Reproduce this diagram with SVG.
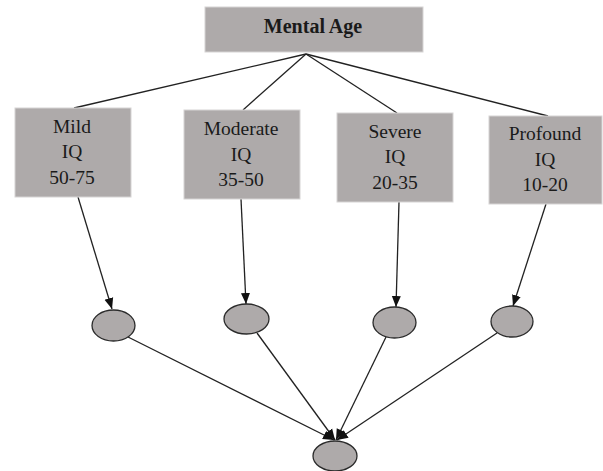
<svg xmlns="http://www.w3.org/2000/svg" width="603" height="471" viewBox="0 0 603 471">
  <style>
    .box { fill: #aeaaaa; stroke: #d6d4d4; stroke-width: 1; }
    .oval { fill: #aeaaaa; stroke: #2b2b2b; stroke-width: 1.3; }
    text { font-family: 'Liberation Serif', 'DejaVu Serif', serif; font-size: 19.5px; fill: #1a1a1a; text-anchor: middle; }
    .title { font-weight: bold; font-size: 20px; }
    .edge { stroke: #222; stroke-width: 1.3; fill: none; }
    .arrow { stroke: #222; stroke-width: 1.3; fill: none; marker-end: url(#head); }
  </style>
  <defs>
    <marker id="head" markerUnits="userSpaceOnUse" markerWidth="12" markerHeight="12" viewBox="0 0 12 12" refX="11" refY="6" orient="auto">
      <path d="M0,1.5 L11,6 L0,10.5 Z" fill="#111"/>
    </marker>
  </defs>
  <rect width="603" height="471" fill="#ffffff"/>

  <!-- connectors -->
  <g id="connectors">
    <line class="edge" x1="306" y1="54" x2="74" y2="108"/>
    <line class="edge" x1="306" y1="54" x2="243" y2="110"/>
    <line class="edge" x1="306" y1="54" x2="397" y2="113"/>
    <line class="edge" x1="306" y1="54" x2="548" y2="116"/>
    <line class="arrow" x1="78" y1="197" x2="112" y2="309"/>
    <line class="arrow" x1="241" y1="199" x2="246" y2="304"/>
    <line class="arrow" x1="399" y1="202" x2="396" y2="307"/>
    <line class="arrow" x1="546" y1="204" x2="513" y2="306"/>
    <line class="arrow" x1="128" y1="337" x2="334" y2="440"/>
    <line class="arrow" x1="257" y1="333" x2="335" y2="440"/>
    <line class="arrow" x1="386" y1="337" x2="336" y2="440"/>
    <line class="arrow" x1="497" y1="333" x2="337" y2="440"/>
  </g>

  <g id="mental-age">
    <rect class="box" x="205" y="7" width="218" height="45"/>
    <text class="title" x="313" y="32.5">Mental Age</text>
  </g>

  <g id="mild">
    <rect class="box" x="15" y="108" width="116" height="89"/>
    <text x="72" y="132.5">Mild</text>
    <text x="72" y="158">IQ</text>
    <text x="72" y="183.5">50-75</text>
  </g>

  <g id="moderate">
    <rect class="box" x="184" y="110" width="116" height="89"/>
    <text x="241" y="135">Moderate</text>
    <text x="241" y="160.5">IQ</text>
    <text x="241" y="186">35-50</text>
  </g>

  <g id="severe">
    <rect class="box" x="337" y="113" width="116" height="89"/>
    <text x="395" y="137.5">Severe</text>
    <text x="395" y="163">IQ</text>
    <text x="395" y="188.5">20-35</text>
  </g>

  <g id="profound">
    <rect class="box" x="489" y="116" width="113" height="88"/>
    <text x="545" y="140">Profound</text>
    <text x="545" y="165.5">IQ</text>
    <text x="545" y="191">10-20</text>
  </g>

  <g id="oval-mild"><ellipse class="oval" cx="113.5" cy="325.5" rx="21.5" ry="15.5"/></g>
  <g id="oval-moderate"><ellipse class="oval" cx="246.5" cy="319" rx="22.5" ry="15"/></g>
  <g id="oval-severe"><ellipse class="oval" cx="394.5" cy="322.5" rx="21.5" ry="15.5"/></g>
  <g id="oval-profound"><ellipse class="oval" cx="512" cy="321.5" rx="21" ry="15.5"/></g>
  <g id="oval-result"><ellipse class="oval" cx="335" cy="456" rx="22" ry="15"/></g>
</svg>
